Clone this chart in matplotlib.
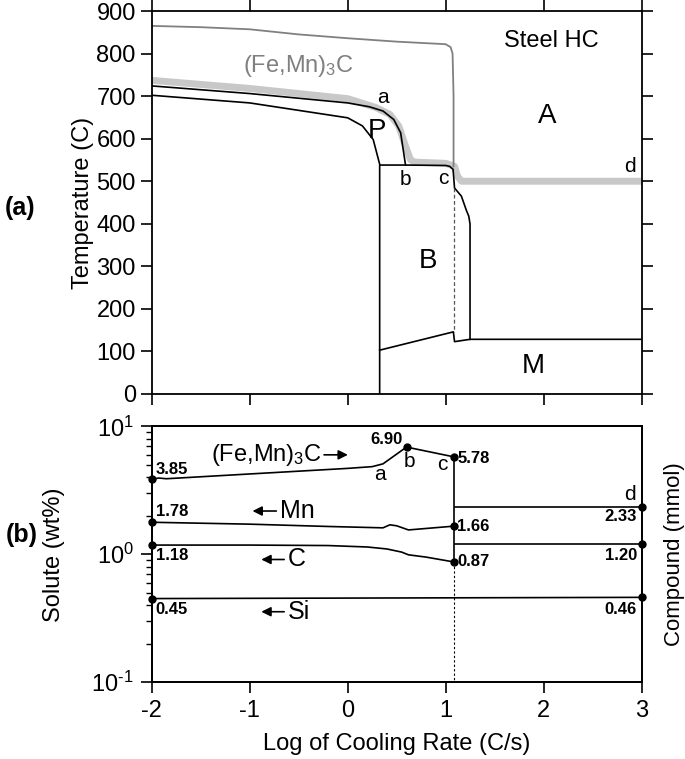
import matplotlib
matplotlib.use("Agg")
import matplotlib.pyplot as plt
from matplotlib.ticker import MultipleLocator, LogLocator, NullFormatter, FuncFormatter
import numpy as np

plt.rcParams['font.family'] = ['Liberation Sans', 'DejaVu Sans']
plt.rcParams['mathtext.fontset'] = 'custom'
plt.rcParams['mathtext.rm'] = 'Liberation Sans'
plt.rcParams['mathtext.it'] = 'Liberation Sans:italic'
plt.rcParams['mathtext.bf'] = 'Liberation Sans:bold'
plt.rcParams['axes.unicode_minus'] = False

# ---- (a) temperature vs log cooling rate
cem_x = [-2, -1.5, -1, -0.5, 0, 0.5, 1.0, 1.05, 1.07, 1.08, 1.08]
cem_t = [865, 862, 857, 845, 836, 828, 822, 815, 800, 700, 535]

ae_x = [-2, -1, 0, 0.29, 0.43, 0.52, 0.59, 0.64, 0.68, 1.0, 1.09, 1.12, 1.16, 3]
ae_t = [737, 718, 694, 673, 657, 630, 582, 551, 545, 542, 535, 512, 500, 500]

ps_x = [-2, -1, 0, 0.22, 0.36, 0.47, 0.54, 0.59]
ps_t = [724, 706, 684, 675, 665, 645, 614, 538]

pf_x = [-2, -1, 0, 0.15, 0.26, 0.326]
pf_t = [702, 684, 649, 630, 598, 540]

bs_x = [0.326, 0.326, 0.6, 1.0, 1.04, 1.075, 1.09, 1.16, 1.21, 1.235, 1.248, 1.248]
bs_t = [0, 538, 538, 537, 535, 528, 484, 465, 432, 418, 400, 128.5]

bf_x = [0.326, 1.078, 1.09, 1.248, 3]
bf_t = [103, 146, 123, 128.5, 128.5]

dash_x = [1.088, 1.088]
dash_t = [484, 146]

# ---- (b) solute / compound
cmp_x = [-2, -1.93, -1.85, -1, 0, 0.25, 0.36, 0.60, 1.085]
cmp_v = [3.85, 3.95, 3.9, 4.25, 4.7, 4.85, 5.1, 6.90, 5.78]

mn_x = [-2, -1, -0.2, 0.36, 0.43, 0.50, 0.62, 1.085]
mn_v = [1.78, 1.72, 1.65, 1.61, 1.70, 1.67, 1.55, 1.66]

c_x = [-2, -1, -0.2, 0.2, 0.4, 0.55, 0.62, 0.8, 1.085]
c_v = [1.18, 1.18, 1.17, 1.14, 1.10, 1.04, 0.99, 0.95, 0.87]

si_x = [-2, 3]
si_v = [0.45, 0.46]

mart_x = [1.09, 3]
mart_cmp = [2.33, 2.33]
mart_c = [1.20, 1.20]

pts_x = [-2, -2, -2, -2, 0.60, 1.085, 1.085, 1.085, 3, 3, 3]
pts_v = [3.85, 1.78, 1.18, 0.45, 6.90, 5.78, 1.66, 0.87, 2.33, 1.20, 0.46]

fig = plt.figure(figsize=(6.85, 7.59), dpi=100)
ax1 = fig.add_axes([0.2215, 0.4809, 0.7153, 0.5046])
ax2 = fig.add_axes([0.2215, 0.1014, 0.7153, 0.3367])

lw = 1.2
ax1.plot(ae_x, ae_t, color='#c8c8c8', lw=5, solid_capstyle='butt')
ax1.plot(cem_x, cem_t, color='#808080', lw=1.3)
ax1.plot(ps_x, ps_t, color='black', lw=lw)
ax1.plot(pf_x, pf_t, color='black', lw=lw)
ax1.plot(bs_x, bs_t, color='black', lw=lw)
ax1.plot(bf_x, bf_t, color='black', lw=lw)
ax1.plot(dash_x, dash_t, color='#555555', lw=0.9, ls=(0, (3, 2)))

ax1.set_xlim(-2, 3)
ax1.set_ylim(0, 900)
ax1.yaxis.set_major_locator(MultipleLocator(100))
ax1.xaxis.set_major_locator(MultipleLocator(1))
ax1.tick_params(direction='out', length=8, width=1.2, labelsize=17,
                top=True, right=True, labelbottom=False)
ax1.set_ylabel('Temperature (C)', fontsize=17)
ax1.yaxis.set_label_coords(-0.118, 0.5)

ax1.text(2.08, 829, 'Steel HC', fontsize=17, ha='center', va='center')
ax1.text(-0.5, 771, '(Fe,Mn)$_3$C', fontsize=17, color='#808080', ha='center', va='center')
ax1.text(0.36, 697, 'a', fontsize=15, ha='center', va='center')
ax1.text(0.30, 619, 'P', fontsize=20, ha='center', va='center')
ax1.text(2.04, 653, 'A', fontsize=20, ha='center', va='center')
ax1.text(0.59, 504, 'b', fontsize=15, ha='center', va='center')
ax1.text(0.975, 506, 'c', fontsize=15, ha='center', va='center')
ax1.text(2.88, 534, 'd', fontsize=15, ha='center', va='center')
ax1.text(0.815, 312, 'B', fontsize=20, ha='center', va='center')
ax1.text(1.89, 65, 'M', fontsize=20, ha='center', va='center')

ax2.set_yscale('log')
ax2.plot(cmp_x, cmp_v, color='black', lw=lw)
ax2.plot(mn_x, mn_v, color='black', lw=lw)
ax2.plot(c_x, c_v, color='black', lw=lw)
ax2.plot(si_x, si_v, color='black', lw=lw)
ax2.plot(mart_x, mart_cmp, color='black', lw=lw)
ax2.plot(mart_x, mart_c, color='black', lw=lw)
ax2.plot([1.085, 1.085], [5.78, 0.87], color='black', lw=lw)
ax2.plot([1.085, 1.085], [0.87, 0.1], color='black', lw=0.8, ls=(0, (2, 2)))
ax2.plot(pts_x, pts_v, 'o', color='black', ms=5, clip_on=False, zorder=5)


def decade(v, pos):
    e = int(round(np.log10(v)))
    s = '\\text{-}%d' % abs(e) if e < 0 else '%d' % e
    return '$\\mathdefault{10^{%s}}$' % s


ax2.set_xlim(-2, 3)
ax2.set_ylim(0.1, 10)
ax2.xaxis.set_major_locator(MultipleLocator(1))
ax2.yaxis.set_major_locator(LogLocator(base=10))
ax2.yaxis.set_major_formatter(FuncFormatter(decade))
ax2.yaxis.set_minor_locator(LogLocator(base=10, subs=range(2, 10)))
ax2.yaxis.set_minor_formatter(NullFormatter())
ax2.tick_params(which='major', direction='out', length=8, width=1.2, labelsize=17,
                right=True, pad=5)
ax2.tick_params(which='minor', direction='out', length=4, width=1.0, right=True)
ax2.set_xlabel('Log of Cooling Rate (C/s)', fontsize=17, labelpad=8)
ax2.set_ylabel('Solute (wt%)', fontsize=17)
ax2.yaxis.set_label_coords(-0.177, 0.5)

ax2r = ax2.twinx()
ax2r.set_yscale('log')
ax2r.set_ylim(0.1, 10)
ax2r.tick_params(which='both', right=False, labelright=False)
ax2r.set_ylabel('Compound (mmol)', fontsize=16)
ax2r.yaxis.set_label_coords(1.046, 0.5)

for ax in (ax1, ax2, ax2r):
    for s in ax.spines.values():
        s.set_linewidth(1.3)

num = dict(fontsize=12, fontweight='bold', va='center')
ax2.text(-1.96, 4.6, '3.85', ha='left', **num)
ax2.text(-1.96, 2.16, '1.78', ha='left', **num)
ax2.text(-1.96, 0.98, '1.18', ha='left', **num)
ax2.text(-1.96, 0.37, '0.45', ha='left', **num)
ax2.text(0.56, 7.9, '6.90', ha='right', **num)
ax2.text(1.12, 5.6, '5.78', ha='left', **num)
ax2.text(1.12, 1.64, '1.66', ha='left', **num)
ax2.text(1.12, 0.87, '0.87', ha='left', **num)
ax2.text(2.95, 1.97, '2.33', ha='right', **num)
ax2.text(2.95, 0.98, '1.20', ha='right', **num)
ax2.text(2.95, 0.37, '0.46', ha='right', **num)

ax2.text(0.33, 4.18, 'a', fontsize=15, ha='center', va='center')
ax2.text(0.63, 5.3, 'b', fontsize=15, ha='center', va='center')
ax2.text(0.965, 5.0, 'c', fontsize=15, ha='center', va='center')
ax2.text(2.88, 2.91, 'd', fontsize=15, ha='center', va='center')

arrow = dict(arrowstyle='-|>', color='black', lw=1.2, mutation_scale=14)
ax2.text(-0.26, 6.0, '(Fe,Mn)$_3$C', fontsize=17, ha='right', va='center')
ax2.annotate('', xy=(0.03, 6.0), xytext=(-0.27, 6.0), arrowprops=arrow)
ax2.text(-0.69, 2.18, 'Mn', fontsize=18, ha='left', va='center')
ax2.annotate('', xy=(-1.0, 2.18), xytext=(-0.7, 2.18), arrowprops=arrow)
ax2.text(-0.61, 0.91, 'C', fontsize=18, ha='left', va='center')
ax2.annotate('', xy=(-0.91, 0.91), xytext=(-0.62, 0.91), arrowprops=arrow)
ax2.text(-0.61, 0.355, 'Si', fontsize=18, ha='left', va='center')
ax2.annotate('', xy=(-0.91, 0.355), xytext=(-0.62, 0.355), arrowprops=arrow)

fig.text(20 / 685, 1 - 208 / 759, '(a)', fontsize=18, fontweight='bold', ha='center', va='center')
fig.text(22 / 685, 1 - 535 / 759, '(b)', fontsize=18, fontweight='bold', ha='center', va='center')

fig.savefig('out.png', dpi=100)
